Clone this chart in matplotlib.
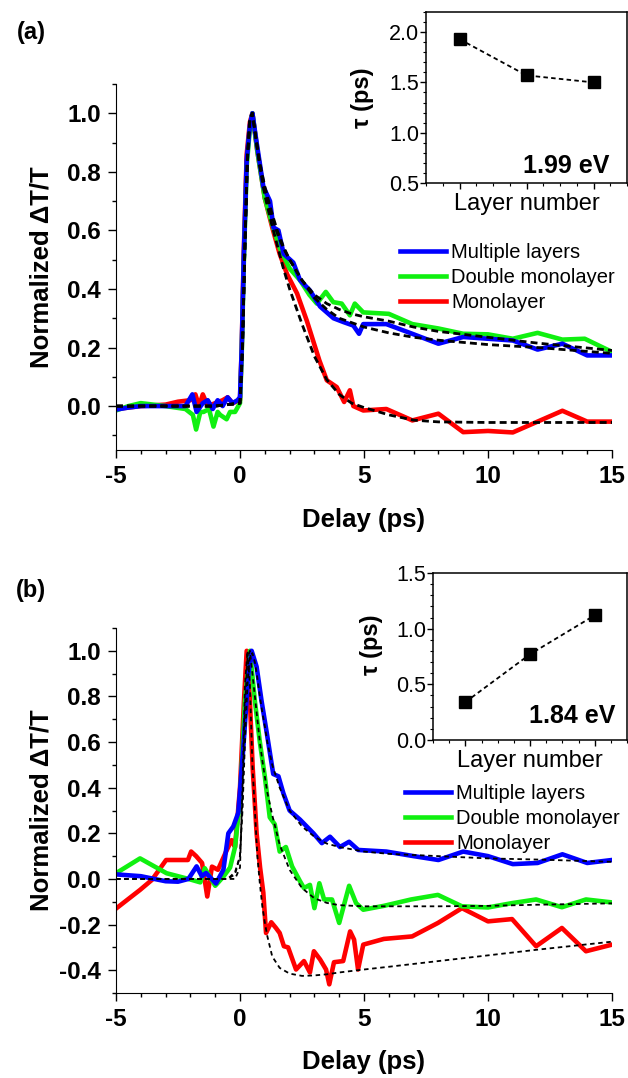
import numpy as np
import matplotlib.pyplot as plt
from matplotlib.ticker import MultipleLocator

plt.rcParams['font.family'] = ['Liberation Sans', 'DejaVu Sans']
plt.rcParams['axes.unicode_minus'] = False

BLUE = '#0000ff'
GREEN = '#10f010'
RED = '#ff0000'

# ---------------- panel (a), probe 1.99 eV ----------------
a_blue_t = [-5, -4.5, -4, -3, -2.2, -1.92, -1.75, -1.5, -1.3, -1.1, -0.9, -0.7, -0.5, -0.3, -0.1,
            0.0, 0.07, 0.15, 0.27, 0.4, 0.5, 0.67, 0.94, 1.1, 1.21, 1.35, 1.55, 1.76, 2.15, 2.42,
            2.82, 3.23, 3.5, 3.77, 4.17, 4.57, 4.8, 4.97, 5.9, 6.85, 8, 9, 10, 11, 12, 13, 14, 15]
a_blue_y = [-0.012, -0.005, 0.0, 0.0, 0.0, 0.04, -0.02, 0.01, 0.02, -0.01, 0.02, 0.0, 0.03, 0.01, 0.02,
            0.03, 0.2, 0.5, 0.84, 0.96, 1.0, 0.9, 0.75, 0.72, 0.70, 0.61, 0.60, 0.52, 0.49, 0.43,
            0.395, 0.34, 0.32, 0.30, 0.287, 0.275, 0.247, 0.28, 0.28, 0.25, 0.213, 0.236, 0.23, 0.224,
            0.193, 0.213, 0.173, 0.173]

a_green_t = [-5, -4.5, -4, -3.5, -3, -2.2, -1.9, -1.77, -1.6, -1.47, -1.25, -1.07, -0.9, -0.8, -0.54,
             -0.4, -0.2, 0.0, 0.07, 0.15, 0.27, 0.4, 0.5, 0.7, 1.0, 1.3, 1.6, 2.0, 2.42, 2.8,
             3.1, 3.46, 3.76, 4.1, 4.43, 4.63, 4.97, 6.0, 6.95, 8, 9, 10, 11, 12, 13, 13.9, 15]
a_green_y = [-0.015, 0.0, 0.01, 0.005, 0.0, -0.01, -0.03, -0.08, -0.02, -0.02, -0.01, -0.07, -0.02, -0.03, -0.045,
             -0.02, -0.02, 0.01, 0.18, 0.48, 0.82, 0.95, 1.0, 0.87, 0.71, 0.62, 0.54, 0.47, 0.43, 0.38,
             0.35, 0.39, 0.355, 0.35, 0.31, 0.35, 0.32, 0.315, 0.28, 0.265, 0.247, 0.245, 0.23, 0.25,
             0.227, 0.23, 0.185]

a_red_t = [-5, -4, -3, -2.5, -2.0, -1.8, -1.65, -1.5, -1.3, -1.0, -0.7, -0.5, -0.3, 0.0, 0.07,
           0.15, 0.27, 0.4, 0.5, 0.7, 1.0, 1.3, 1.6, 1.9, 2.3, 2.7, 3.2, 3.5, 3.9, 4.2,
           4.43, 4.57, 4.97, 5.9, 6.95, 8, 9, 10, 11, 12, 13, 14, 15]
a_red_y = [-0.01, 0.0, 0.005, 0.015, 0.02, 0.04, 0.0, 0.04, 0.0, 0.01, 0.02, 0.03, 0.01, 0.02, 0.2,
           0.52, 0.86, 0.97, 1.0, 0.87, 0.71, 0.61, 0.52, 0.45, 0.385, 0.29, 0.156, 0.088, 0.065, 0.014,
           0.054, 0.0, -0.015, -0.01, -0.049, -0.026, -0.089, -0.085, -0.09, -0.053, -0.016, -0.053, -0.053]

# fitted curves (dashed)
a_fit_t = [-5, -1, 0, 0.1, 0.2, 0.3, 0.4, 0.5, 0.6, 0.8, 1.0, 1.25, 1.5, 1.75, 2.0, 2.5, 3.0,
           3.5, 4.0, 4.5, 5.0, 6.0, 7.0, 8.0, 10, 12, 15]
a_fit_blue = [0, 0, 0.01, 0.2, 0.55, 0.85, 0.98, 1.0, 0.94, 0.83, 0.75, 0.67, 0.60, 0.545, 0.50, 0.43, 0.37,
              0.33, 0.30, 0.285, 0.27, 0.25, 0.235, 0.225, 0.21, 0.20, 0.18]
a_fit_green = [0, 0, 0.01, 0.2, 0.55, 0.85, 0.98, 1.0, 0.94, 0.82, 0.74, 0.66, 0.59, 0.54, 0.50, 0.43, 0.38,
               0.35, 0.33, 0.315, 0.305, 0.29, 0.27, 0.255, 0.235, 0.215, 0.19]
a_fit_red = [0, 0, 0.01, 0.2, 0.55, 0.85, 0.98, 1.0, 0.94, 0.82, 0.72, 0.63, 0.55, 0.47, 0.40, 0.28, 0.17,
             0.09, 0.04, 0.01, -0.005, -0.03, -0.048, -0.054, -0.056, -0.056, -0.056]

# ---------------- panel (b), probe 1.84 eV ----------------
b_blue_t = [-5, -4, -3, -2.5, -2.08, -1.75, -1.54, -1.37, -1.14, -0.97, -0.67, -0.47, -0.27, -0.07, 0.13,
            0.34, 0.47, 0.67, 0.87, 1.08, 1.34, 1.55, 1.75, 2.0, 2.42, 2.96, 3.3, 3.63, 4.03, 4.4,
            4.77, 5.9, 7, 8, 9, 10, 11, 12, 13, 14, 15]
b_blue_y = [0.02, 0.012, -0.01, -0.012, 0.0, 0.055, 0.012, 0.026, 0.0, -0.02, 0.04, 0.2, 0.23, 0.29, 0.57,
            0.9, 1.0, 0.93, 0.78, 0.64, 0.46, 0.45, 0.375, 0.30, 0.26, 0.2, 0.157, 0.185, 0.14, 0.163,
            0.127, 0.12, 0.10, 0.083, 0.12, 0.10, 0.065, 0.07, 0.108, 0.07, 0.083]

b_green_t = [-5, -4.03, -2.96, -2.08, -1.6, -1.42, -1.0, -0.67, -0.4, -0.2, 0.0, 0.2, 0.4, 0.6, 0.8,
             1.0, 1.2, 1.4, 1.6, 1.85, 2.1, 2.42, 2.58, 2.82, 3.0, 3.2, 3.39, 3.71, 4.0, 4.4,
             4.68, 4.97, 5.8, 6.9, 7.98, 8.95, 10, 10.97, 11.94, 12.98, 13.95, 15]
b_green_y = [0.025, 0.09, 0.025, 0.0, -0.015, 0.047, -0.03, 0.01, 0.05, 0.14, 0.35, 0.78, 1.0, 0.78, 0.6,
             0.45, 0.27, 0.24, 0.12, 0.14, 0.055, -0.01, -0.04, -0.026, -0.128, -0.019, -0.09, -0.09, -0.193, -0.03,
             -0.106, -0.135, -0.118, -0.09, -0.07, -0.12, -0.125, -0.106, -0.09, -0.124, -0.09, -0.103]

b_red_t = [-5, -4.03, -3.55, -2.98, -2.1, -1.97, -1.77, -1.53, -1.32, -1.13, -0.89, -0.56, -0.34, -0.2, 0.0,
           0.16, 0.27, 0.4, 0.51, 0.67, 0.81, 0.94, 1.05, 1.26, 1.45, 1.6, 1.77, 1.94, 2.26, 2.58,
           2.82, 2.98, 3.23, 3.47, 3.6, 3.79, 4.16, 4.44, 4.6, 4.76, 4.97, 5.8, 6.94, 7.98, 8.95,
           10, 10.97, 11.94, 12.98, 13.95, 15]
b_red_y = [-0.13, -0.048, -0.004, 0.083, 0.083, 0.12, 0.1, 0.07, -0.077, 0.054, 0.04, 0.12, 0.17, 0.14, 0.4,
           0.78, 1.0, 0.78, 0.49, 0.2, 0.05, -0.06, -0.237, -0.19, -0.215, -0.237, -0.295, -0.3, -0.397, -0.36,
           -0.41, -0.317, -0.353, -0.397, -0.462, -0.365, -0.36, -0.23, -0.266, -0.397, -0.288, -0.263, -0.252,
           -0.193, -0.128, -0.186, -0.176, -0.295, -0.215, -0.317, -0.288]

b_fit_t = [-5, -0.5, -0.2, 0.0, 0.1, 0.2, 0.3, 0.4, 0.5, 0.6, 0.7, 0.8, 0.9, 1.0, 1.1, 1.3, 1.6, 2.0,
           2.5, 3.0, 3.5, 4.0, 5.0, 6.0, 8.0, 10, 12, 15]
b_fit_blue = [0, 0, 0.03, 0.1, 0.3, 0.6, 0.85, 0.98, 0.99, 0.95, 0.88, 0.8, 0.73, 0.67, 0.6, 0.5, 0.4, 0.3,
              0.23, 0.185, 0.155, 0.14, 0.12, 0.11, 0.1, 0.09, 0.085, 0.075]
b_fit_green = [0, 0, 0.02, 0.1, 0.35, 0.75, 0.97, 1.0, 0.9, 0.8, 0.7, 0.6, 0.52, 0.45, 0.38, 0.28, 0.15, 0.04,
               -0.04, -0.085, -0.105, -0.115, -0.12, -0.12, -0.12, -0.118, -0.113, -0.107]
b_fit_red = [0, 0, 0.0, 0.05, 0.4, 0.85, 1.0, 0.85, 0.5, 0.3, 0.1, -0.02, -0.12, -0.19, -0.25, -0.34, -0.39, -0.415,
             -0.425, -0.423, -0.418, -0.41, -0.397, -0.385, -0.36, -0.335, -0.31, -0.275]

# ---------------- insets: lifetime vs layer number ----------------
layers = [1, 2, 3]
tau_a = [1.93, 1.57, 1.50]
tau_b = [0.34, 0.77, 1.12]

series_names = ['Multiple layers', 'Double monolayer', 'Monolayer']
x_ticks = [-5, 0, 5, 10, 15]
x_labels = ['-5', '0', '5', '10', '15']
a_yticks = [0.0, 0.2, 0.4, 0.6, 0.8, 1.0]
b_yticks = [-0.4, -0.2, 0.0, 0.2, 0.4, 0.6, 0.8, 1.0]
ins_a_yticks = [0.5, 1.0, 1.5, 2.0]
ins_b_yticks = [0.0, 0.5, 1.0, 1.5]


fig = plt.figure(figsize=(6.28, 10.78), dpi=100)
W, H = 628.0, 1078.0


def px_axes(l, t, r, b):
    return fig.add_axes([l / W, 1 - b / H, (r - l) / W, (b - t) / H])


def main_panel(ax, data, fits, fit_t, ylim, yticks, dash, dlw):
    lines = []
    for (t, y, c, name) in data:
        ln, = ax.plot(t, y, color=c, lw=3.3, label=name, solid_joinstyle='round')
        lines.append(ln)
    for f in fits:
        ax.plot(fit_t, f, color='black', lw=dlw, linestyle=(0, dash))
    ax.set_xlim(-5, 15)
    ax.set_ylim(*ylim)
    ax.spines['top'].set_visible(False)
    ax.spines['right'].set_visible(False)
    ax.set_xticks(x_ticks, x_labels, fontsize=17.5, fontweight='bold')
    ax.set_yticks(yticks, ['%.1f' % v for v in yticks], fontsize=17.5, fontweight='bold')
    ax.xaxis.set_minor_locator(MultipleLocator(1))
    ax.yaxis.set_minor_locator(MultipleLocator(0.1))
    ax.tick_params(which='major', direction='out', length=6, width=1, pad=5)
    ax.tick_params(which='minor', direction='out', length=3, width=1)
    ax.set_xlabel('Delay (ps)', fontsize=18.5, fontweight='bold')
    ax.xaxis.set_label_coords(0.5, -0.19)
    ax.xaxis.label.set_va('center')
    ax.set_ylabel('Normalized \u0394T/T', fontsize=18.5, fontweight='bold')
    ax.yaxis.set_label_coords(-0.151, 0.5)
    ax.yaxis.label.set_va('center')
    return lines


def inset(ax, tau, ylim, yticks, ystep, energy, epos, ylab_y):
    ax.plot(layers, tau, color='black', lw=1.3, linestyle=(0, (2.5, 1.8)),
            marker='s', markersize=9, markerfacecolor='black')
    ax.set_xlim(0.5, 3.5)
    ax.set_ylim(*ylim)
    ax.set_xticks(layers, ['', '', ''])
    ax.set_yticks(yticks, ['%.1f' % v for v in yticks], fontsize=15.5)
    ax.xaxis.set_minor_locator(MultipleLocator(0.25))
    ax.yaxis.set_minor_locator(MultipleLocator(ystep))
    ax.tick_params(which='major', direction='out', length=4, width=1, pad=1)
    ax.tick_params(which='minor', direction='out', length=2, width=0.8)
    for s in ax.spines.values():
        s.set_linewidth(1.1)
    ax.set_xlabel('Layer number', fontsize=17)
    ax.xaxis.set_label_coords(0.5, -0.125)
    ax.xaxis.label.set_va('center')
    ax.set_ylabel('\u03c4 (ps)', fontsize=17, fontweight='bold')
    ax.yaxis.set_label_coords(-0.315, ylab_y)
    ax.yaxis.label.set_va('center')
    ax.text(epos[0], epos[1], energy, transform=ax.transAxes, ha='center', va='center',
            fontsize=18, fontweight='bold')


# panel (a)
ax_a = px_axes(116, 84, 612, 450)
la = main_panel(ax_a,
                [(a_red_t, a_red_y, RED, series_names[2]),
                 (a_green_t, a_green_y, GREEN, series_names[1]),
                 (a_blue_t, a_blue_y, BLUE, series_names[0])],
                [a_fit_red, a_fit_green, a_fit_blue], a_fit_t,
                (-0.15, 1.1), a_yticks, (2.5, 1.5), 2.0)
ax_a.legend([la[2], la[1], la[0]], series_names, loc='upper left',
            bbox_to_anchor=(400 / W, 1 - 243 / H), bbox_transform=fig.transFigure,
            frameon=False, fontsize=14.5, handlelength=2.3, handletextpad=0.25,
            labelspacing=0.3, borderpad=0, borderaxespad=0)

# panel (b)
ax_b = px_axes(116, 628, 612, 993)
lb = main_panel(ax_b,
                [(b_red_t, b_red_y, RED, series_names[2]),
                 (b_green_t, b_green_y, GREEN, series_names[1]),
                 (b_blue_t, b_blue_y, BLUE, series_names[0])],
                [b_fit_red, b_fit_green, b_fit_blue], b_fit_t,
                (-0.5, 1.1), b_yticks, (2.5, 2.0), 1.3)
ax_b.legend([lb[2], lb[1], lb[0]], series_names, loc='upper left',
            bbox_to_anchor=(405 / W, 1 - 784 / H), bbox_transform=fig.transFigure,
            frameon=False, fontsize=14.5, handlelength=2.3, handletextpad=0.25,
            labelspacing=0.3, borderpad=0, borderaxespad=0)

# insets
ins_a = px_axes(426, 12, 627, 183)
inset(ins_a, tau_a, (0.5, 2.2), ins_a_yticks, 0.1, '1.99 eV', (0.697, 0.10), 0.5)
ins_b = px_axes(433, 573, 627, 740)
inset(ins_b, tau_b, (0.0, 1.5), ins_b_yticks, 0.1, '1.84 eV', (0.716, 0.144), 0.57)

fig.text(31 / W, 1 - 33 / H, '(a)', ha='center', va='center', fontsize=17, fontweight='bold')
fig.text(31 / W, 1 - 590 / H, '(b)', ha='center', va='center', fontsize=17, fontweight='bold')

fig.savefig('out.png', dpi=100)
